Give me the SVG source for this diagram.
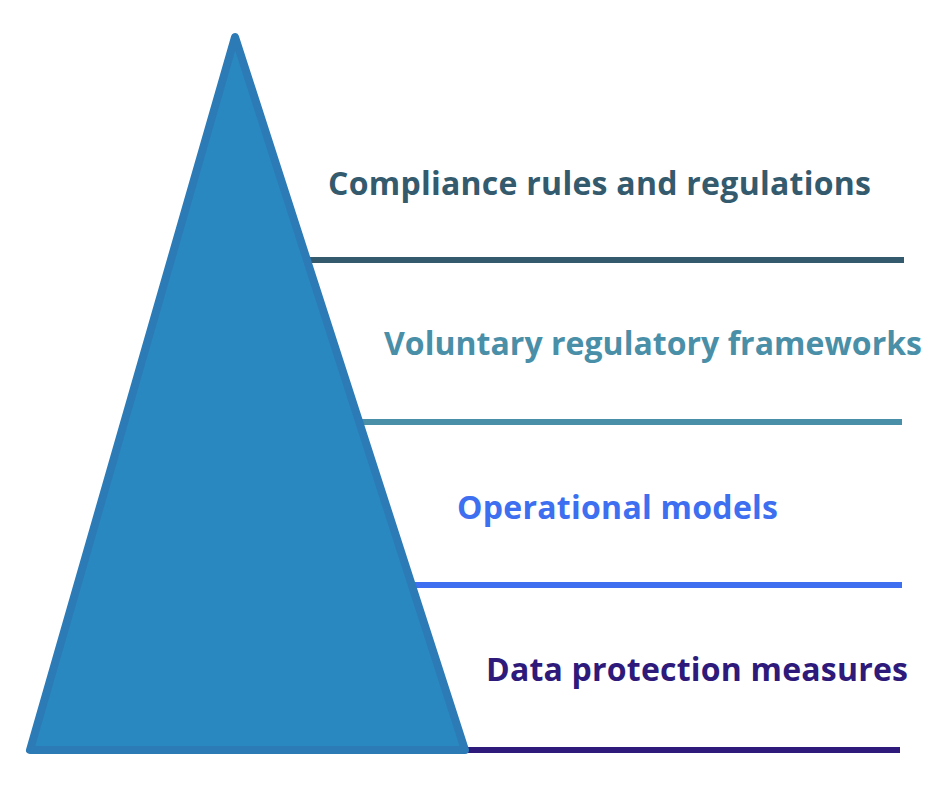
<svg xmlns="http://www.w3.org/2000/svg" width="940" height="788" viewBox="0 0 940 788">
<style>
text{font-family:"Open Sans","Liberation Sans",sans-serif;font-weight:bold;font-size:32px}
line{stroke-width:6}
</style>
<rect width="940" height="788" fill="#fff"/>
<g id="connectors">
<line x1="300" y1="260" x2="904" y2="260" stroke="#345a6e"/>
<line x1="350" y1="422" x2="902" y2="422" stroke="#4a8fa8"/>
<line x1="400" y1="585" x2="902" y2="585" stroke="#3d6ff0"/>
<line x1="450" y1="750" x2="900" y2="750" stroke="#2e1a7a"/>
</g>
<g id="pyramid">
<polygon points="235,37 30,750 465,750" fill="#2a88c0" stroke="#2c7bb6" stroke-width="8" stroke-linejoin="round"/>
</g>
<g id="label1"><text x="328" y="195" fill="#345a6e" textLength="543">Compliance rules and regulations</text></g>
<g id="label2"><text x="384" y="355" fill="#4a8fa8" textLength="538">Voluntary regulatory frameworks</text></g>
<g id="label3"><text x="457" y="519" fill="#3d6ff0" textLength="321">Operational models</text></g>
<g id="label4"><text x="486" y="681" fill="#2e1a7a" textLength="422">Data protection measures</text></g>
</svg>
